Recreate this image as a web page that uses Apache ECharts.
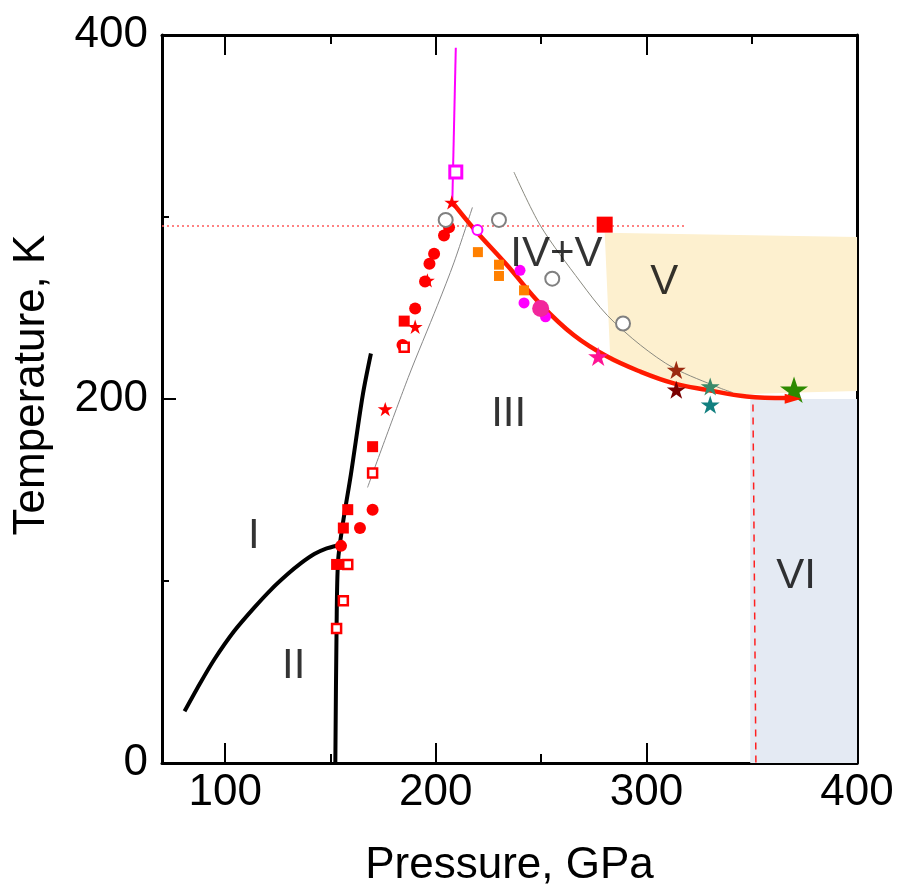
<!DOCTYPE html>
<html><head><meta charset="utf-8">
<script src="https://cdn.jsdelivr.net/npm/echarts@6/dist/echarts.min.js"></script>
<style>html,body{margin:0;padding:0;background:#fff}#c{width:898px;height:893px}</style>
</head><body><div id="c"></div>
<script>
// ---------- data (Pressure GPa, Temperature K) ----------
const xMajorTicks = [100, 200, 300, 400];
const xMinorTicks = [150, 250, 350];
const yTicks = [0, 200, 400];

const lineI_II_P = [80.7, 87.7, 94.9, 104.3, 113.9, 121.8, 129.7, 136.0, 142.3, 147.9, 153.4];
const lineI_II_T = [28.4, 43.0, 57.0, 72.5, 85.5, 95.3, 103.8, 109.8, 114.8, 117.8, 119.5];
const lineII_III_P = [152.3, 152.9, 153.6, 155.8, 159.7, 165.3, 169.2];
const lineII_III_T = [0, 75, 111, 131, 158.6, 202, 225];
const grayLine1_P = [167.6, 186.9, 200.8, 208.7, 217.4];
const grayLine1_T = [151.4, 211.8, 251.5, 275.2, 305.3];
const grayLine2_P = [237.1, 249.8, 268.7, 281.4, 297.2, 313, 335, 341];
const grayLine2_T = [324.7, 295, 264.3, 246, 229.6, 217, 206, 203.5];
const redCurve_P = [207.9, 218.2, 234, 249.8, 265.6, 281.4, 297.2, 313, 328.8, 347.6, 366.6];
const redCurve_T = [308, 293.4, 273.3, 252, 235, 223.3, 215, 208.6, 205, 201.4, 200.5];
const magentaLine_P = [209.5, 207.8];
const magentaLine_T = [393, 306];
const roomTempLine_P = [70, 318.5];
const roomTempLine_T = [295, 295];
const dashedVI_P = [350.6, 352];
const dashedVI_T = [197, 0];

const regionV = [[280.2, 291.3], [400, 289], [400, 204.4], [363.5, 203.3], [339.8, 202.4], [309.5, 209.7], [282.9, 220.6]];
const regionVI = [[349.3, 0], [400, 0], [400, 200], [349.3, 200]];

const redCircles = [[206.3, 294.3], [203.9, 289.8], [199.2, 279.8], [197, 274.3], [194.9, 264.6], [190.2, 249.7], [184.2, 229.7], [170, 139.2], [164, 129.1], [155, 119.3]];
const redSquares = [[185, 242.8], [170, 173.8], [158.2, 139.2], [156.1, 129.1], [152.9, 109.1]];
const redOpenSquares = [[185, 228.4], [170, 159.3], [158.2, 109.1], [156.1, 89.1], [152.9, 73.9]];
const redStars = [[207.6, 308], [196, 265.2], [190.2, 239.7], [176, 194.5]];
const bigRedSquare = [[280.2, 295.8]];
const grayCircles = [[204.7, 298.4], [230, 298.4], [255.3, 266.1], [288.9, 241.5]];
const magentaOpenCircle = [[219.8, 292.9]];
const magentaOpenSquare = [[209.5, 324.7]];
const orangeSquares = [[220, 280.7], [230, 273.8], [230, 267.6], [241.9, 259.7]];
const magentaCircles = [[240, 270.7], [241.9, 252.8], [252.1, 245.2]];
const bigPinkCircle = [[249.8, 249.7]];
const pinkStar = [[277.1, 223.3]];
const brownStar = [[314.2, 216]];
const darkRedStar = [[314.2, 205.1]];
const seaGreenStar = [[330.3, 206.9]];
const tealStar = [[330.3, 196.9]];
const greenStar = [[370.1, 205.1]];
const arrowHead = [[369.7, 200.2]];

const regionLabelText = ['I', 'II', 'III', 'IV+V', 'V', 'VI'];
const regionLabelP = [113.6, 132.5, 234.6, 257.3, 308.5, 371.1];
const regionLabelT = [124.4, 53, 191.8, 279.2, 263.9, 102.7];

// ---------- helpers ----------
const zip = (a, b) => a.map((v, i) => [v, b[i]]);
const STAR = 'path://M50,0L61.23,34.55L97.55,34.55L68.17,55.9L79.39,90.45L50,69.1L20.61,90.45L31.83,55.9L2.45,34.55L38.77,34.55Z';
const FONT = "'Liberation Sans', Arial, sans-serif";

function line(data, color, width, extra) {
  return Object.assign({
    type: 'line', data: data, symbol: 'none', showSymbol: false, silent: true, z: 3,
    lineStyle: { color: color, width: width }, animation: false
  }, extra || {});
}
function pts(data, symbol, size, color, extra) {
  return Object.assign({
    type: 'scatter', data: data, symbol: symbol, symbolSize: size, symbolKeepAspect: true, silent: true, z: 5,
    itemStyle: { color: color, opacity: 1 }, animation: false
  }, extra || {});
}
function openPts(data, symbol, size, color, bw, extra) {
  return pts(data, symbol, size, '#fff', Object.assign({ itemStyle: { color: '#fff', borderColor: color, borderWidth: bw, opacity: 1 } }, extra || {}));
}
function poly(vertices, fill) {
  return {
    type: 'custom', silent: true, z: 1, clip: false, data: [[0, 0]], animation: false,
    renderItem: function (params, api) {
      return { type: 'polygon', shape: { points: vertices.map(p => api.coord(p)) }, style: { fill: fill } };
    }
  };
}

const axisLineStyle = { show: true, lineStyle: { color: '#000', width: 3 } };
const chart = echarts.init(document.getElementById('c'), null, { renderer: 'canvas' });

chart.setOption({
  animation: false,
  backgroundColor: '#fff',
  textStyle: { fontFamily: FONT },
  grid: { left: 162, right: 41, top: 35, bottom: 124, containLabel: false },
  xAxis: [
    { type: 'value', position: 'bottom', min: 70, max: 400,
      axisLine: axisLineStyle, splitLine: { show: false },
      axisTick: { show: true, inside: true, length: 20, lineStyle: { color: '#000', width: 2 }, customValues: xMajorTicks },
      axisLabel: { show: true, customValues: xMajorTicks, color: '#000', fontSize: 44, fontFamily: FONT, margin: 8 },
      name: 'Pressure, GPa', nameLocation: 'middle', nameGap: 81,
      nameTextStyle: { color: '#000', fontSize: 44, fontFamily: FONT } },
    { type: 'value', position: 'bottom', min: 70, max: 400,
      axisLine: { show: false }, splitLine: { show: false }, axisLabel: { show: false },
      axisTick: { show: true, inside: true, length: 9, lineStyle: { color: '#000', width: 2 }, customValues: xMinorTicks } },
    { type: 'value', position: 'top', min: 70, max: 400,
      axisLine: axisLineStyle, splitLine: { show: false }, axisLabel: { show: false },
      axisTick: { show: true, inside: true, length: 20, lineStyle: { color: '#000', width: 2 }, customValues: xMajorTicks } },
    { type: 'value', position: 'top', min: 70, max: 400,
      axisLine: { show: false }, splitLine: { show: false }, axisLabel: { show: false },
      axisTick: { show: true, inside: true, length: 9, lineStyle: { color: '#000', width: 2 }, customValues: xMinorTicks } }
  ],
  yAxis: [
    { type: 'value', position: 'left', min: 0, max: 400, interval: 200,
      axisLine: axisLineStyle, splitLine: { show: false },
      axisTick: { show: true, inside: true, length: 14, lineStyle: { color: '#000', width: 2 } },
      minorTick: { show: true, splitNumber: 2, length: 7, lineStyle: { color: '#000', width: 2 } },
      minorSplitLine: { show: false },
      axisLabel: { color: '#000', fontSize: 44, fontFamily: FONT, margin: 14 },
      name: 'Temperature, K', nameLocation: 'middle', nameGap: 108,
      nameTextStyle: { color: '#000', fontSize: 44, fontFamily: FONT, padding: [0, 0, 0, 28] } },
    { type: 'value', position: 'right', min: 0, max: 400, interval: 200,
      axisLine: axisLineStyle, splitLine: { show: false }, axisTick: { show: false }, axisLabel: { show: false } }
  ],
  series: [
    poly(regionV, '#fdf0cf'),
    poly(regionVI, '#e4eaf3'),
    line(zip(roomTempLine_P, roomTempLine_T), '#ff5a5a', 1.5, { lineStyle: { color: '#ff5a5a', width: 1.5, type: [2, 3] } }),
    line(zip(dashedVI_P, dashedVI_T), '#ff2020', 1.5, { lineStyle: { color: '#ff2020', width: 1.5, type: [7, 6] } }),
    line(zip(grayLine1_P, grayLine1_T), '#888', 1, { smooth: 0.3 }),
    line(zip(grayLine2_P, grayLine2_T), '#8a8a80', 1, { smooth: 0.3 }),
    line(zip(lineI_II_P, lineI_II_T), '#000', 4, { smooth: 0.2 }),
    line(zip(lineII_III_P, lineII_III_T), '#000', 4, { smooth: 0.3 }),
    line(zip(magentaLine_P, magentaLine_T), '#ff00ff', 2),
    line(zip(redCurve_P, redCurve_T), '#ff1a00', 4.5, { smooth: 0.4, z: 4 }),
    pts(redCircles, 'circle', 12, '#ff0000'),
    pts(redSquares, 'rect', 11, '#ff0000'),
    openPts(redOpenSquares, 'rect', 9, '#ff0000', 2.5, { z: 6 }),
    pts(redStars, STAR, 15, '#ff0000'),
    pts(bigRedSquare, 'rect', 16, '#ff0000'),
    openPts(grayCircles, 'circle', 14, '#808080', 2),
    openPts(magentaOpenCircle, 'circle', 10, '#ff00ff', 2),
    openPts(magentaOpenSquare, 'rect', 12, '#ff00ff', 3),
    pts(orangeSquares, 'rect', 10, '#ff8000'),
    pts(magentaCircles, 'circle', 11, '#ff00ff'),
    pts(bigPinkCircle, 'circle', 17, '#f2279c'),
    pts(pinkStar, STAR, 20, '#ff1493'),
    pts(brownStar, STAR, 19, '#9b2a10'),
    pts(darkRedStar, STAR, 19, '#7a0000'),
    pts(seaGreenStar, STAR, 19, '#3a8a6a'),
    pts(tealStar, STAR, 19, '#128080'),
    pts(greenStar, STAR, 28, '#2d8a00'),
    pts(arrowHead, 'triangle', [10, 17], '#ff1a00', { symbolRotate: -90, z: 7 }),
    {
      type: 'scatter', silent: true, z: 8, animation: false,
      data: regionLabelText.map((t, i) => ({ name: t, value: [regionLabelP[i], regionLabelT[i]] })),
      symbol: 'circle', symbolSize: 1, itemStyle: { color: 'rgba(0,0,0,0)' },
      label: { show: true, position: 'inside', formatter: '{b}', color: '#000', fontSize: 42, fontFamily: FONT }
    }
  ]
});
</script>
</body></html>
